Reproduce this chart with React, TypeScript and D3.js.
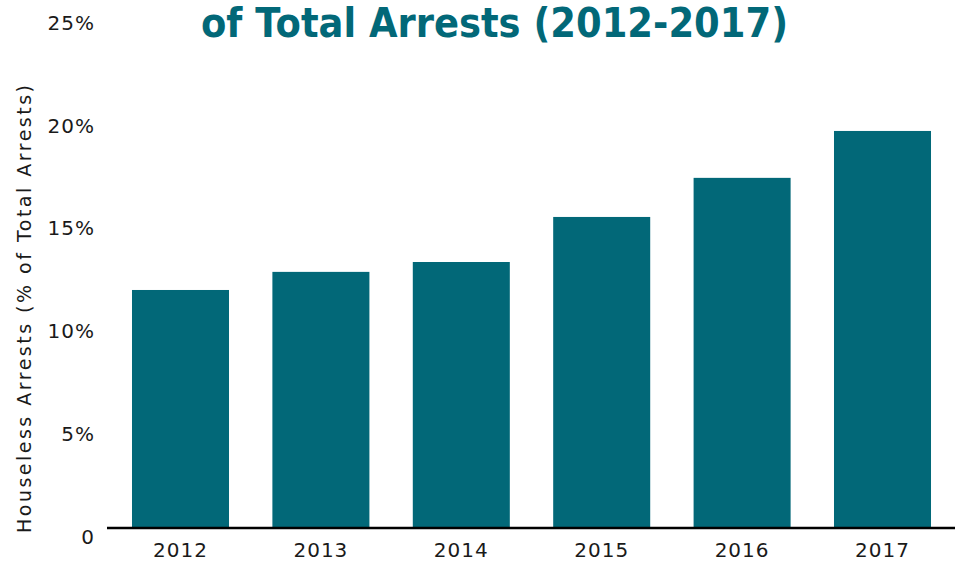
import React from "react";
import * as d3 from "d3";

const years = ["2012", "2013", "2014", "2015", "2016", "2017"];
const shares = [11.57, 12.45, 12.93, 15.12, 17.02, 19.3];
const yTicks = [0, 5, 10, 15, 20, 25];
const titleText = "of Total Arrests (2012-2017)";
const yAxisTitle = "Houseless Arrests (% of Total Arrests)";

const W = 962;
const H = 561;
const TEAL = "#026878";
const FONT = "'DejaVu Sans', sans-serif";

export default function App() {
  const x = d3
    .scaleBand<string>()
    .domain(years)
    .range([110.3, 952.7])
    .paddingInner(0.309)
    .paddingOuter(0.1545);
  const y = d3.scaleLinear().domain([0, 25]).range([528, 13.7]);

  return (
    <svg
      width={W}
      height={H}
      style={{ position: "absolute", left: 0, top: 0, background: "#fff" }}
    >
      <text
        x={201}
        y={37}
        fill={TEAL}
        fontFamily={FONT}
        fontWeight="bold"
        fontSize={41}
        textLength={587}
        lengthAdjust="spacingAndGlyphs"
      >
        {titleText}
      </text>

      {yTicks.map((t) => (
        <text
          key={t}
          x={95}
          y={y(t) + 9}
          dy="0.35em"
          textAnchor="end"
          fontFamily={FONT}
          fontSize={20}
          letterSpacing={1}
          fill="#1a1a1a"
        >
          {t === 0 ? "0" : `${t}%`}
        </text>
      ))}

      <text
        transform={`translate(31, 309) rotate(-90)`}
        textAnchor="middle"
        fontFamily={FONT}
        fontSize={19}
        fill="#1a1a1a"
        textLength={448}
        lengthAdjust="spacing"
      >
        {yAxisTitle}
      </text>

      {years.map((yr, i) => (
        <rect
          key={yr}
          x={x(yr)}
          y={y(shares[i])}
          width={x.bandwidth()}
          height={y(0) - y(shares[i])}
          fill={TEAL}
        />
      ))}

      <line x1={107} x2={955} y1={y(0)} y2={y(0)} stroke="#000" strokeWidth={2.5} />

      {years.map((yr) => (
        <text
          key={yr}
          x={(x(yr) as number) + x.bandwidth() / 2}
          y={557}
          textAnchor="middle"
          fontFamily={FONT}
          fontSize={20}
          letterSpacing={1}
          fill="#1a1a1a"
        >
          {yr}
        </text>
      ))}
    </svg>
  );
}
